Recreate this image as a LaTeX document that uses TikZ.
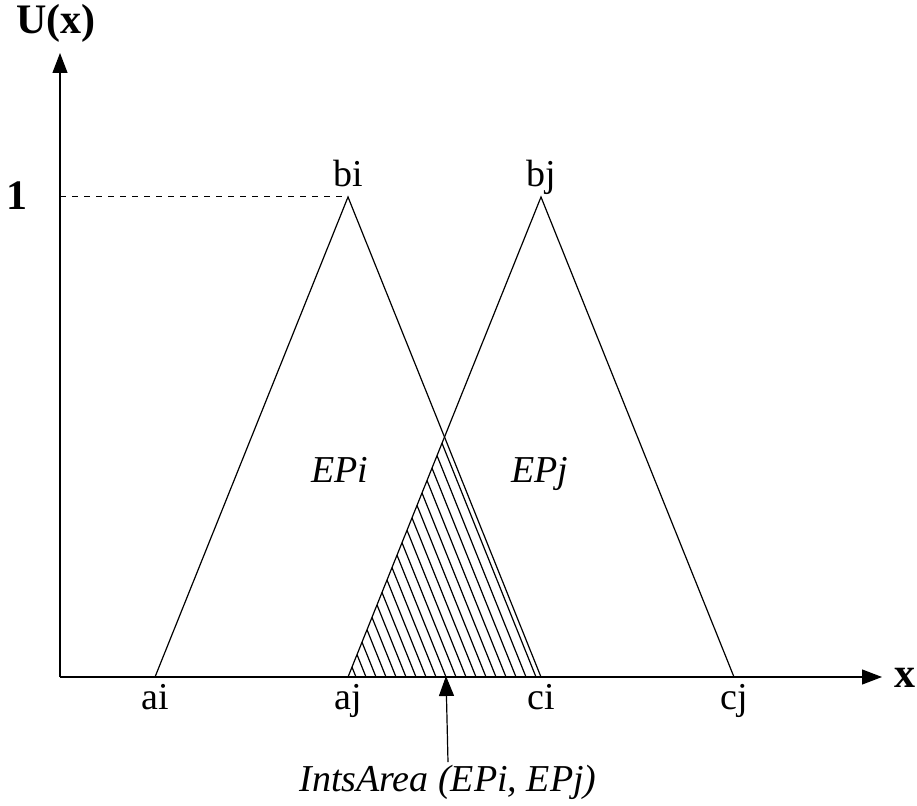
\documentclass[tikz,border=0pt]{standalone}
\usepackage{fontspec}
\setmainfont{Liberation Serif}
\usetikzlibrary{positioning,arrows.meta}

\begin{document}
\begin{tikzpicture}[x=0.5pt, y=0.5pt, >={Triangle[length=10pt,width=7.5pt]}, line width=0.6pt,
          txt/.style={font=\fontsize{19}{21}\selectfont, inner sep=1pt, anchor=base},
          axlbl/.style={font=\fontsize{21}{23}\selectfont\bfseries, inner sep=1pt, anchor=base},
          epl/.style={font=\fontsize{19}{21}\selectfont\itshape, inner sep=1pt, anchor=base}]
        \useasboundingbox (0,0) rectangle (917,805);
        % points of the two triangles
        \coordinate (o) at (60,128);
        \coordinate (ytop) at (60,752);
        \coordinate (xend) at (882,128);
        \coordinate (ai) at (155,128);
        \coordinate (aj) at (348,128);
        \coordinate (ci) at (541,128);
        \coordinate (cj) at (734,128);
        \coordinate (bi) at (348,608);
        \coordinate (bj) at (541,608);
        \coordinate (one) at (60,608);
        \coordinate (cross) at (444.5,368);
        \coordinate (tip) at (446,129);
        % hatched overlap
        \begin{scope}
          \clip (aj) -- (cross) -- (ci) -- cycle;
          \foreach \s in {356,366,...,546}
            \draw (\s,128) -- ++(-193,480);
        \end{scope}
        % axes
        \draw[->] (o) -- (ytop);
        \draw[->] (o) -- (xend);
        \draw[dashed, line width=0.5pt] (one) -- (bi);
        \draw (ai) -- (bi) -- (ci);
        \draw (aj) -- (bj) -- (cj);
        % labels
        \node[axlbl] (ux) at (56,771) {U(x)};
        \node[axlbl] (lone) at (17,595) {1};
        \node[axlbl] (lx) at (905,118) {x};
        \node[txt] (lbi) at (348,618) {bi};
        \node[txt] (lbj) at (541,618) {bj};
        \node[txt] (lai) at (155,96) {ai};
        \node[txt] (laj) at (348,96) {aj};
        \node[txt] (lci) at (541,96) {ci};
        \node[txt] (lcj) at (734,96) {cj};
        \node[epl] (epi) at (340,322) {EPi};
        \node[epl] (epj) at (540,322) {EPj};
        \node[epl] (ints) at (448,14) {IntsArea (EPi, EPj)};
        \draw[->] (ints.north) -- (tip);
      \end{tikzpicture}
\end{document}
